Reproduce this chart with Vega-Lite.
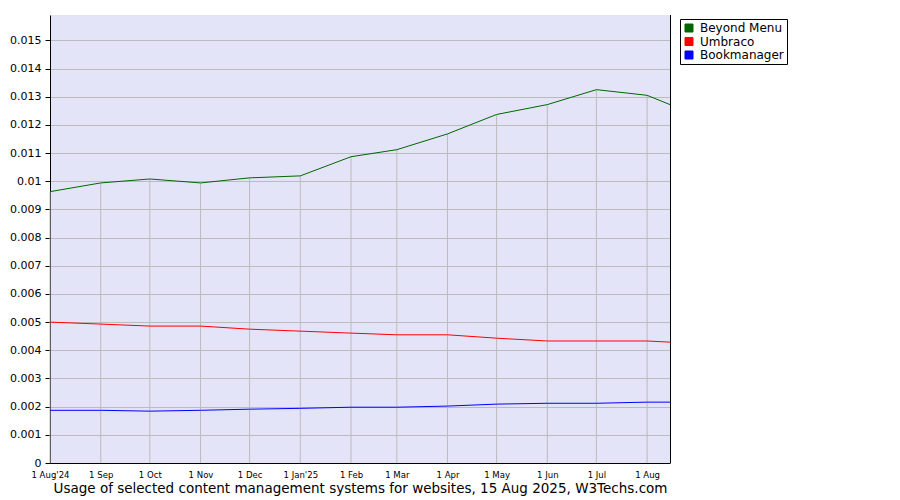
{
  "$schema": "https://vega.github.io/schema/vega-lite/v6.json",
  "width": 620,
  "height": 448,
  "autosize": {"type": "none"},
  "padding": {"left": 50, "top": 15, "right": 230, "bottom": 37},
  "background": "white",
  "config": {
    "view": {"fill": "#E4E4F8", "stroke": null},
    "font": "DejaVu Sans",
    "axis": {"labelColor": "black", "titleColor": "black", "domainColor": "black", "tickColor": "black", "gridColor": "#BBBBBB", "gridWidth": 1, "gridOpacity": 1}
  },
  "data": {
    "values": [
      {"date": "2024-08-01", "cms": "Beyond Menu", "share": 0.00963},
      {"date": "2024-09-01", "cms": "Beyond Menu", "share": 0.00994},
      {"date": "2024-10-01", "cms": "Beyond Menu", "share": 0.01008},
      {"date": "2024-11-01", "cms": "Beyond Menu", "share": 0.00994},
      {"date": "2024-12-01", "cms": "Beyond Menu", "share": 0.01012},
      {"date": "2025-01-01", "cms": "Beyond Menu", "share": 0.01019},
      {"date": "2025-02-01", "cms": "Beyond Menu", "share": 0.01087},
      {"date": "2025-03-01", "cms": "Beyond Menu", "share": 0.01112},
      {"date": "2025-04-01", "cms": "Beyond Menu", "share": 0.01168},
      {"date": "2025-05-01", "cms": "Beyond Menu", "share": 0.01237},
      {"date": "2025-06-01", "cms": "Beyond Menu", "share": 0.01272},
      {"date": "2025-07-01", "cms": "Beyond Menu", "share": 0.01325},
      {"date": "2025-08-01", "cms": "Beyond Menu", "share": 0.01305},
      {"date": "2025-08-15", "cms": "Beyond Menu", "share": 0.01272},
      {"date": "2024-08-01", "cms": "Umbraco", "share": 0.00500},
      {"date": "2024-09-01", "cms": "Umbraco", "share": 0.00493},
      {"date": "2024-10-01", "cms": "Umbraco", "share": 0.00486},
      {"date": "2024-11-01", "cms": "Umbraco", "share": 0.00486},
      {"date": "2024-12-01", "cms": "Umbraco", "share": 0.00475},
      {"date": "2025-01-01", "cms": "Umbraco", "share": 0.00468},
      {"date": "2025-02-01", "cms": "Umbraco", "share": 0.00461},
      {"date": "2025-03-01", "cms": "Umbraco", "share": 0.00455},
      {"date": "2025-04-01", "cms": "Umbraco", "share": 0.00455},
      {"date": "2025-05-01", "cms": "Umbraco", "share": 0.00443},
      {"date": "2025-06-01", "cms": "Umbraco", "share": 0.00433},
      {"date": "2025-07-01", "cms": "Umbraco", "share": 0.00433},
      {"date": "2025-08-01", "cms": "Umbraco", "share": 0.00433},
      {"date": "2025-08-15", "cms": "Umbraco", "share": 0.00429},
      {"date": "2024-08-01", "cms": "Bookmanager", "share": 0.00187},
      {"date": "2024-09-01", "cms": "Bookmanager", "share": 0.00187},
      {"date": "2024-10-01", "cms": "Bookmanager", "share": 0.00184},
      {"date": "2024-11-01", "cms": "Bookmanager", "share": 0.00187},
      {"date": "2024-12-01", "cms": "Bookmanager", "share": 0.00191},
      {"date": "2025-01-01", "cms": "Bookmanager", "share": 0.00194},
      {"date": "2025-02-01", "cms": "Bookmanager", "share": 0.00198},
      {"date": "2025-03-01", "cms": "Bookmanager", "share": 0.00198},
      {"date": "2025-04-01", "cms": "Bookmanager", "share": 0.00202},
      {"date": "2025-05-01", "cms": "Bookmanager", "share": 0.00209},
      {"date": "2025-06-01", "cms": "Bookmanager", "share": 0.00212},
      {"date": "2025-07-01", "cms": "Bookmanager", "share": 0.00212},
      {"date": "2025-08-01", "cms": "Bookmanager", "share": 0.00216},
      {"date": "2025-08-15", "cms": "Bookmanager", "share": 0.00216}
    ]
  },
  "encoding": {
    "x": {
      "field": "date", "type": "temporal",
      "scale": {"type": "utc", "domain": [{"year": 2024, "month": 8, "date": 1, "utc": true}, {"year": 2025, "month": 8, "date": 15, "utc": true}], "nice": false},
      "axis": {
        "tickCount": {"interval": "month", "step": 1},
        "grid": false, "ticks": false, "labelFontSize": 9.5, "labelPadding": 6,
        "labelFont": "Liberation Sans Narrow, DejaVu Sans Condensed, DejaVu Sans",
        "labelFlush": false, "labelOverlap": false,
        "labelExpr": "'1 ' + utcFormat(datum.value, '%b') + ((utcmonth(datum.value) == 0 || (utcyear(datum.value) == 2024 && utcmonth(datum.value) == 7)) ? \"'\" + utcFormat(datum.value, '%y') : '')",
        "title": "Usage of selected content management systems for websites, 15 Aug 2025, W3Techs.com",
        "titleFontSize": 13.5, "titleFontWeight": "normal", "titlePadding": 3
      }
    },
    "y": {
      "field": "share", "type": "quantitative",
      "scale": {"domain": [0, 0.0159], "nice": false, "zero": true},
      "axis": {
        "values": [0, 0.001, 0.002, 0.003, 0.004, 0.005, 0.006, 0.007, 0.008, 0.009, 0.01, 0.011, 0.012, 0.013, 0.014, 0.015],
        "format": "~f", "title": null, "labelFontSize": 11, "tickSize": 5, "labelPadding": 4, "grid": true, "labelOverlap": false
      }
    }
  },
  "layer": [
    {
      "transform": [{"filter": "datum.cms == 'Beyond Menu' && utcdate(datum.date) == 1"}],
      "mark": {"type": "rule", "color": "#BBBBBB", "strokeWidth": 1},
      "encoding": {
        "y2": {"datum": 0}
      }
    },
    {
      "mark": {"type": "line", "strokeWidth": 1, "interpolate": "linear"},
      "encoding": {
        "color": {
          "field": "cms", "type": "nominal",
          "scale": {"domain": ["Beyond Menu", "Umbraco", "Bookmanager"], "range": ["#006600", "#FF0000", "#0000FF"]},
          "legend": {
            "title": null, "orient": "none", "legendX": 630, "legendY": 4,
            "strokeColor": "black", "fillColor": "white", "padding": 3, "cornerRadius": 0,
            "symbolType": "square", "symbolSize": 64, "symbolStrokeColor": "black", "symbolStrokeWidth": 1,
            "labelFontSize": 12, "labelColor": "black", "labelOffset": 5, "rowPadding": 1.5,
            "encode": {"symbols": {"update": {"fill": {"scale": "color", "field": "value"}, "stroke": {"value": "black"}, "strokeWidth": {"value": 1}, "opacity": {"value": 1}}}}
          }
        }
      }
    },
    {
      "mark": {"type": "rule", "color": "black", "strokeWidth": 1, "xOffset": 0.5},
      "encoding": {"x": {"datum": {"year": 2025, "month": 8, "date": 15, "utc": true}, "type": "temporal"}, "y": null}
    }
  ]
}
